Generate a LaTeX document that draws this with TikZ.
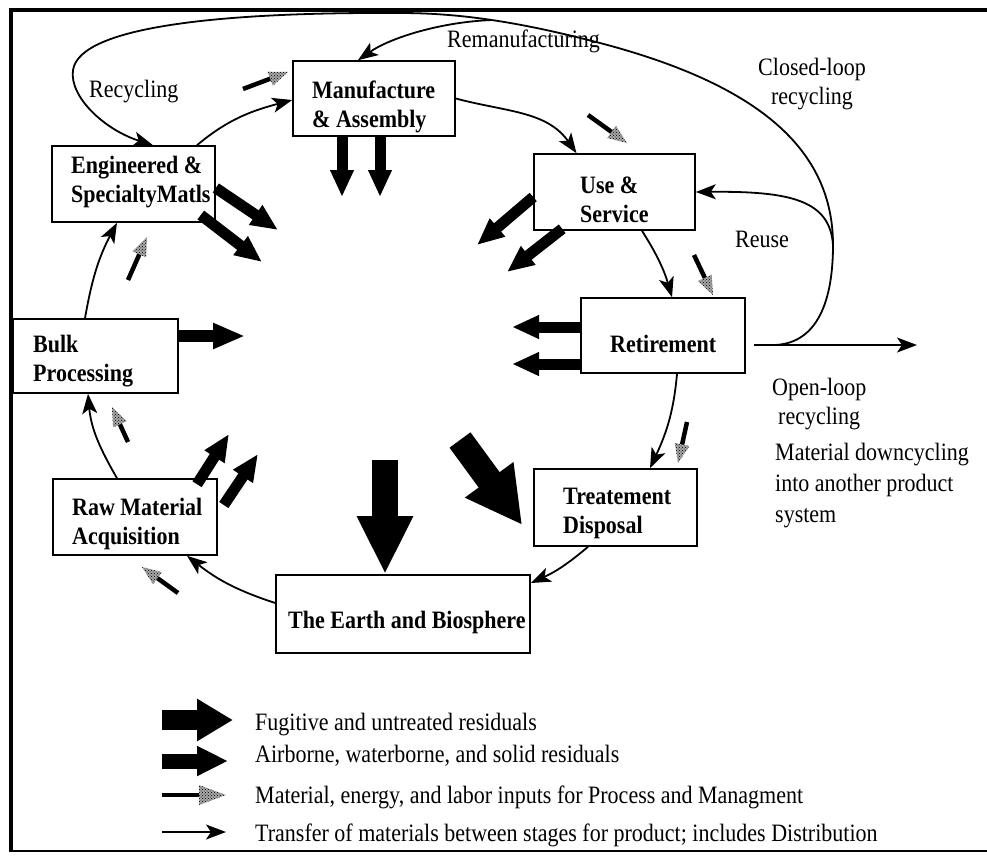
\documentclass[tikz,border=0pt]{standalone}
\usepackage{fontspec}
\setmainfont{Liberation Serif}[FakeStretch=0.88]
\usetikzlibrary{arrows.meta,calc,patterns}
\tikzset{
  box/.style={draw, line width=1.6pt, rectangle, inner sep=0pt},
  boxtxt/.style={font=\fontsize{25}{29}\selectfont\bfseries, align=left, inner sep=0pt, anchor=base west},
  lbl/.style={font=\fontsize{25}{29}\selectfont, inner sep=0pt, anchor=base west},
  flow/.style={line width=1.8pt, -{Stealth[length=20pt,width=15pt,inset=5pt]}},
  loopline/.style={line width=1.8pt},
  resid/.style={line width=11pt, -{Triangle[length=27pt,width=22pt]}},
  fugit/.style={line width=26pt, -{Triangle[length=58pt,width=52pt]}},
}
\newcommand\matinput[4]{%
  \coordinate (mh) at ($(#2)!#3!(#1)$);
  \draw[line width=4.5pt] (#1) -- ($(mh)!3pt!(#2)$);
  \fill[gray!70] ($(mh)!#4!90:(#2)$) -- (#2) -- ($(mh)!#4!-90:(#2)$) -- cycle;
  \fill[pattern=crosshatch dots] ($(mh)!#4!90:(#2)$) -- (#2) -- ($(mh)!#4!-90:(#2)$) -- cycle;
}
\begin{document}
\begin{tikzpicture}[x=1pt,y=-1pt]
\useasboundingbox (0,0) rectangle (987,857);
% frame
\draw[line width=3.5pt] (11,852) -- (11,10) -- (987,10);
\draw[line width=1.5pt] (11,851) -- (987,851);

% boxes
\node[box, minimum width=162pt, minimum height=75pt] (manu) at (374,98.5) {};
\node[box, minimum width=163pt, minimum height=76pt] (eng) at (133.5,184) {};
\node[box, minimum width=161pt, minimum height=76pt] (use) at (614.5,192) {};
\node[box, minimum width=164pt, minimum height=75pt] (ret) at (663,335.5) {};
\node[box, minimum width=163pt, minimum height=77pt] (treat) at (615.5,507.5) {};
\node[box, minimum width=254pt, minimum height=78pt] (earth) at (403,614) {};
\node[box, minimum width=164pt, minimum height=76pt] (raw) at (135,517) {};
\node[box, minimum width=165pt, minimum height=74pt] (bulk) at (95.5,356) {};

% box texts (anchor = baseline of the last line)
\node[boxtxt] (manuT) at (312,127) {Manufacture\\\& Assembly};
\node[boxtxt] (engT) at (71,202) {Engineered \&\\SpecialtyMatls};
\node[boxtxt] (useT) at (580,222) {Use \&\\Service};
\node[boxtxt] (retT) at (610,352) {Retirement};
\node[boxtxt] (treatT) at (563,533) {Treatement\\Disposal};
\node[boxtxt] (earthT) at (288,628) {The Earth and Biosphere};
\node[boxtxt] (rawT) at (72,544) {Raw Material\\Acquisition};
\node[boxtxt] (bulkT) at (33,381) {Bulk\\Processing};

% labels
\node[lbl] (recyc) at (89,97) {Recycling};
\node[lbl] (reman) at (447,47) {Remanufacturing};
\node[lbl, align=center, anchor=base] (closed) at (812,104) {Closed-loop\\recycling};
\node[lbl] (reuse) at (735,247) {Reuse};
\node[lbl, align=left] (open) at (772,424) {Open-loop\\\hspace*{6pt}recycling};
\node[lbl, align=left, font=\fontsize{25}{31}\selectfont] (down) at (775,522) {Material downcycling\\into another product\\system};

% transfer connectors around the cycle
\draw[flow] ([yshift=11pt]earth.west) to[bend left=10] ([xshift=52pt]raw.south);
\draw[flow] ([xshift=-18pt]raw.north) to[out=120,in=-85] ([xshift=-7.5pt]bulk.south);
\draw[flow] ([xshift=-10.5pt]bulk.north) to[out=80,in=-118] ([xshift=-16.5pt]eng.south);
\draw[flow] ([xshift=63.5pt]eng.north) to[out=40,in=195] ([yshift=-1.5pt]manu.west);
\draw[flow] (manu.east) to[out=-15,in=125] ([xshift=-38pt]use.north);
\draw[flow] ([xshift=27.5pt]use.south) to[bend left=8] ([xshift=9pt]ret.north);
\draw[flow] ([xshift=14pt]ret.south) to[out=-95,in=65] ([xshift=34.5pt]treat.north);
\draw[flow] ([xshift=-27.5pt]treat.south) to[bend left=8] ([yshift=31pt]earth.east);

% open-loop, closed-loop, reuse, remanufacturing, recycling
\coordinate (olend) at (917,345);
\draw[flow] ([yshift=-9.5pt,xshift=8pt]ret.east) -- (olend);
\coordinate (jA) at (775,345);
\coordinate (jB) at (833,245);
\coordinate (jC) at (600,43);
\coordinate (jR) at (492,20);
\coordinate (jD) at (400,13);
\coordinate (jE) at (73,70);
\draw[loopline, -{Stealth[length=20pt,width=15pt,inset=5pt]}] (jA) .. controls (818,343) and (833,300) .. (jB)
  .. controls (833,150) and (760,85) .. (jC)
  .. controls (520,22) and (460,13) .. (jD)
  .. controls (230,12) and (80,25) .. (jE)
  .. controls (69,97) and (105,130) .. ([xshift=19.5pt]eng.north);
\draw[flow] (jR) .. controls (440,22) and (390,38) .. ([xshift=-16pt]manu.north);
\draw[flow] (jB) .. controls (830,200) and (790,191) .. (use.east);

% airborne, waterborne, solid residuals
\coordinate (r1) at (342,197);
\coordinate (r2) at (380,197);
\coordinate (r3) at (278,230);
\coordinate (r4) at (262,262);
\coordinate (r5) at (477,245);
\coordinate (r6) at (507,272);
\coordinate (r7) at (512,327);
\coordinate (r8) at (512,364);
\coordinate (r9) at (245,336);
\coordinate (r10) at (229,434);
\coordinate (r11) at (258,454);
\draw[resid] (manu.south -| r1) -- (r1);
\draw[resid] (manu.south -| r2) -- (r2);
\draw[resid] ([yshift=-4pt]eng.east) -- (r3);
\draw[resid] ([shift={(-15pt,-31pt)}]eng.east) -- (r4);
\draw[resid] ([yshift=-5pt]use.west) -- (r5);
\draw[resid] ([shift={(29pt,2pt)}]use.south west) -- (r6);
\draw[resid] (ret.west |- r7) -- (r7);
\draw[resid] (ret.west |- r8) -- (r8);
\draw[resid, line width=12pt, -{Triangle[length=32pt,width=24pt]}] (bulk.east |- r9) -- (r9);
\draw[resid] ([shift={(62pt,-6pt)}]raw.north) -- (r10);
\draw[resid] ([shift={(6pt,12pt)}]raw.east) -- (r11);

% fugitive residuals
\coordinate (f1) at (385,460);
\coordinate (f2) at (460,440);
\draw[fugit] (f1) -- (earth.north -| f1);
\draw[fugit, -{Triangle[length=56pt,width=56pt]}] (f2) -- ([shift={(-11pt,-17.5pt)}]treat.west);

% material, energy, labor inputs
\coordinate (h1a) at (243,89);  \coordinate (h1b) at (288,72);
\coordinate (h2a) at (588,115); \coordinate (h2b) at (627,143);
\coordinate (h3a) at (694,255); \coordinate (h3b) at (713,295);
\coordinate (h4a) at (687,422); \coordinate (h4b) at (678,463);
\coordinate (h5a) at (178,593); \coordinate (h5b) at (142,567);
\coordinate (h6a) at (128,442); \coordinate (h6b) at (112,407);
\coordinate (h7a) at (128,280); \coordinate (h7b) at (147,237);
\matinput{h1a}{h1b}{19pt}{7.5pt}
\matinput{h2a}{h2b}{19pt}{7.5pt}
\matinput{h3a}{h3b}{19pt}{7.5pt}
\matinput{h4a}{h4b}{19pt}{7.5pt}
\matinput{h5a}{h5b}{19pt}{7.5pt}
\matinput{h6a}{h6b}{19pt}{7.5pt}
\matinput{h7a}{h7b}{19pt}{7.5pt}

% legend
\coordinate (l1a) at (162,720); \coordinate (l1b) at (233,720);
\coordinate (l2a) at (162,761); \coordinate (l2b) at (228,761);
\coordinate (l3a) at (162,795); \coordinate (l3b) at (226,795);
\coordinate (l4a) at (162,832); \coordinate (l4b) at (226,832);
\draw[line width=20pt, -{Triangle[length=36pt,width=40pt]}] (l1a) -- (l1b);
\draw[line width=15pt, -{Triangle[length=31pt,width=28pt]}] (l2a) -- (l2b);
\matinput{l3a}{l3b}{27pt}{10pt}
\draw[flow] (l4a) -- (l4b);
\node[lbl] (leg1) at (255,730) {Fugitive and untreated residuals};
\node[lbl] (leg2) at (255,762) {Airborne, waterborne, and solid residuals};
\node[lbl] (leg3) at (255,803) {Material, energy, and labor inputs for Process and Managment};
\node[lbl] (leg4) at (255,841) {Transfer of materials between stages for product; includes Distribution};
\end{tikzpicture}
\end{document}
